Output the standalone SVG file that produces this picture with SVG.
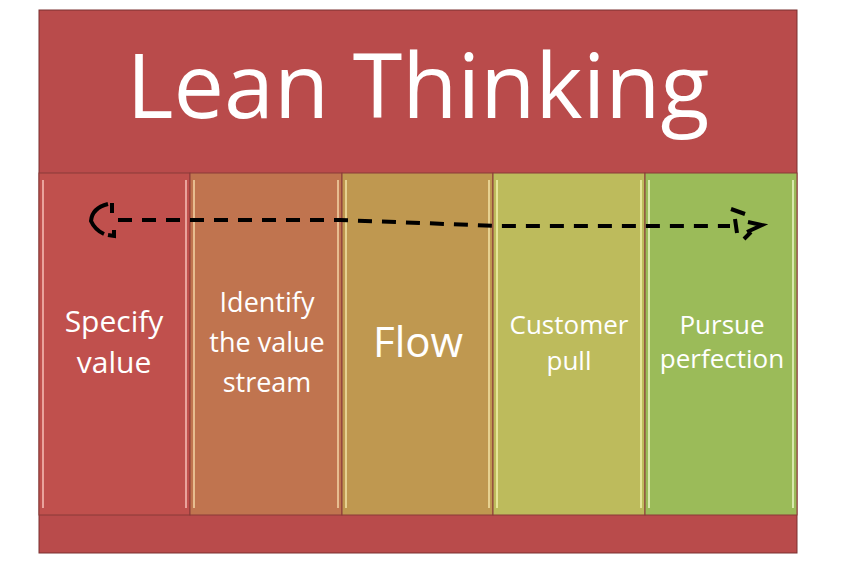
<svg xmlns="http://www.w3.org/2000/svg" width="848" height="565" viewBox="0 0 848 565">
<style>
.col{stroke:#8a3a38;stroke-width:1}
.hl{fill:none;stroke-width:2;opacity:.8}
.t{font-family:"Open Sans",Lato,sans-serif;fill:#fff;text-anchor:middle}
.d{fill:none;stroke:#000;stroke-width:4;stroke-dasharray:14 10}
</style>
<rect x="0" y="0" width="848" height="565" fill="#fff"/>
<rect x="39" y="10" width="758" height="543" fill="#B94B4B" stroke="#7a3030"/>
<text class="t" x="418" y="118" font-size="90">Lean Thinking</text>
<g id="n1"><rect class="col" x="39" y="173" width="151" height="342" fill="#C0504D"/><path class="hl" stroke="#f2b8b0" d="M43 180 V508 M186 180 V508"/>
<text class="t" x="114" y="332" font-size="30">Specify</text><text class="t" x="114" y="373" font-size="30">value</text></g>
<g id="n2"><rect class="col" x="190" y="173" width="152" height="342" fill="#C0744F"/><path class="hl" stroke="#f0d0a0" d="M194 180 V508 M338 180 V508"/>
<text class="t" x="267" y="312" font-size="27">Identify</text><text class="t" x="267" y="352" font-size="27">the value</text><text class="t" x="267" y="392" font-size="27">stream</text></g>
<g id="n3"><rect class="col" x="342" y="173" width="151" height="342" fill="#BF9850"/><path class="hl" stroke="#f0e0a0" d="M346 180 V508 M489 180 V508"/>
<text class="t" x="418" y="357" font-size="42">Flow</text></g>
<g id="n4"><rect class="col" x="493" y="173" width="152" height="342" fill="#BDBB5C"/><path class="hl" stroke="#f0f0a8" d="M497 180 V508 M641 180 V508"/>
<text class="t" x="569" y="334" font-size="26">Customer</text><text class="t" x="569" y="370" font-size="26">pull</text></g>
<g id="n5"><rect class="col" x="645" y="173" width="152" height="342" fill="#9BBB59"/><path class="hl" stroke="#e8f4c0" d="M649 180 V508 M793 180 V508"/>
<text class="t" x="722" y="334" font-size="26">Pursue</text><text class="t" x="722" y="368" font-size="26">perfection</text></g>
<g id="connectors">
<path class="d" d="M118 220 L340 220 L500 226 L730 226"/>
<path d="M112 203 L112 213 M108 204 Q92 208 91 221 Q95 230 104 234 M108 235 L114 236 L114 230" fill="none" stroke="#000" stroke-width="4"/>
<path d="M731 209 L745 214 M735 219 L737 233 M748 222 L762 225 L747 232 M751 232 L744 239" fill="none" stroke="#000" stroke-width="4"/>
</g>
</svg>
